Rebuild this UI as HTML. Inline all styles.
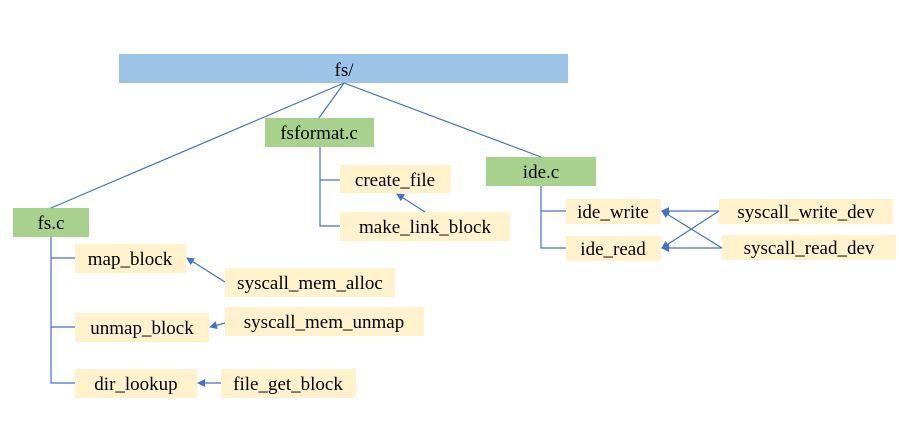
<!DOCTYPE html>
<html><head><meta charset="utf-8"><style>
html,body{margin:0;padding:0;background:#fff;width:899px;height:425px;overflow:hidden}
svg text{font-family:"Liberation Serif","Times New Roman",Times,"Noto Serif CJK SC",serif;font-size:19px;fill:#000}
</style></head><body>
<svg width="899" height="425" xmlns="http://www.w3.org/2000/svg">
<defs><marker id="a" markerWidth="8" markerHeight="8" refX="7" refY="4" orient="auto" markerUnits="userSpaceOnUse"><path d="M0,0 L8,4 L0,8 Z" fill="#4472C4"/></marker></defs>
<g fill="#9DC3E6"><rect x="119" y="54" width="449" height="29"/></g>
<g fill="#A9D18E">
<rect x="265" y="118" width="109" height="29"/>
<rect x="13" y="208" width="76" height="29"/>
<rect x="486" y="157" width="110" height="29"/>
</g>
<g fill="#FFF2CC">
<rect x="340" y="165" width="111" height="28"/>
<rect x="340" y="212" width="170" height="29"/>
<rect x="75" y="244" width="111" height="29"/>
<rect x="225" y="268" width="170" height="29"/>
<rect x="75" y="313" width="134" height="29"/>
<rect x="225" y="307" width="199" height="29"/>
<rect x="75" y="369" width="122" height="29"/>
<rect x="221" y="369" width="135" height="29"/>
<rect x="566" y="199" width="95" height="25"/>
<rect x="566" y="236" width="95" height="25"/>
<rect x="719" y="199" width="174" height="25"/>
<rect x="722" y="235" width="174" height="25"/>
</g>
<g stroke="#4472C4" stroke-width="1.2" fill="none">
<path d="M344,83 L51,208 M344,83 L319,118 M344,83 L541,157"/>
<path d="M320,147 V226 H340 M320,180 H340"/>
<path d="M51,237 V383 H75 M51,258 H75 M51,327 H75"/>
<path d="M541,186 V248 H566 M541,211 H566"/>
<line x1="425" y1="212" x2="397" y2="194" marker-end="url(#a)"/>
<line x1="225" y1="282" x2="187" y2="258" marker-end="url(#a)"/>
<line x1="225" y1="323" x2="210" y2="327" marker-end="url(#a)"/>
<line x1="221" y1="383" x2="198" y2="383" marker-end="url(#a)"/>
<line x1="719" y1="211" x2="662" y2="211" marker-end="url(#a)"/>
<line x1="719" y1="211" x2="662" y2="248" marker-end="url(#a)"/>
<line x1="722" y1="248" x2="662" y2="248" marker-end="url(#a)"/>
<line x1="722" y1="248" x2="662" y2="211" marker-end="url(#a)"/>
</g>
<g text-anchor="middle">
<text x="344" y="76">fs/</text>
<text x="319" y="139">fsformat.c</text>
<text x="51" y="229">fs.c</text>
<text x="541" y="178">ide.c</text>
<text x="395" y="186">create_file</text>
<text x="425" y="233">make_link_block</text>
<text x="130" y="265">map_block</text>
<text x="310" y="289">syscall_mem_alloc</text>
<text x="142" y="334">unmap_block</text>
<text x="324" y="328">syscall_mem_unmap</text>
<text x="136" y="390">dir_lookup</text>
<text x="288" y="390">file_get_block</text>
<text x="613" y="218">ide_write</text>
<text x="613" y="255">ide_read</text>
<text x="806" y="218">syscall_write_dev</text>
<text x="809" y="254">syscall_read_dev</text>
</g>
</svg>
</body></html>
